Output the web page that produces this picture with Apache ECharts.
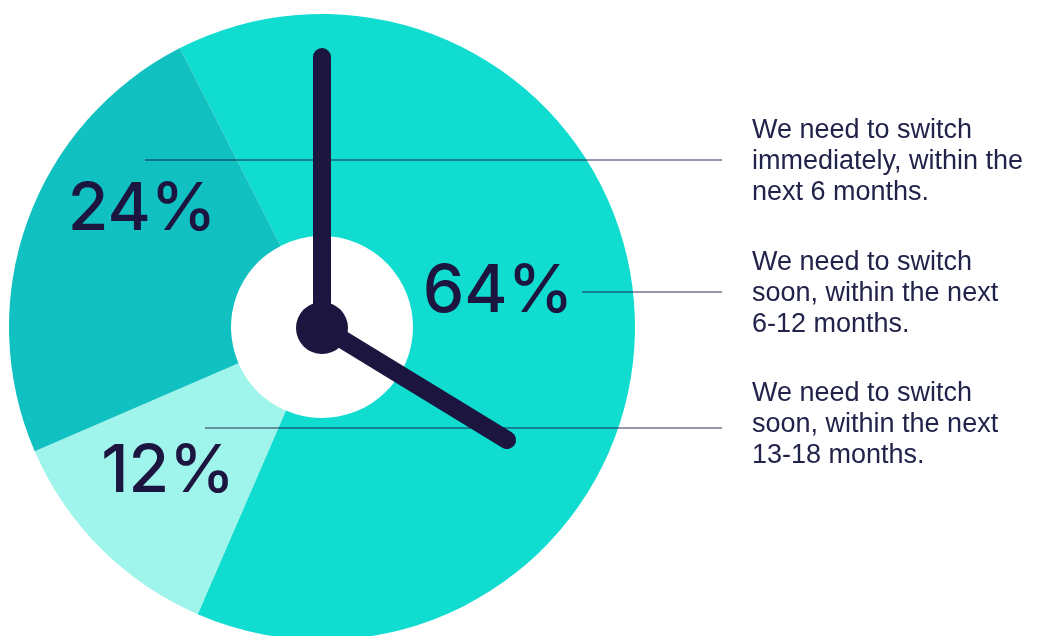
<!DOCTYPE html>
<html>
<head>
<meta charset="utf-8">
<style>
  html, body { margin: 0; padding: 0; background: #ffffff; }
  #chart { width: 1038px; height: 636px; }
</style>
<script src="https://cdn.jsdelivr.net/npm/echarts@6/dist/echarts.min.js"></script>
</head>
<body>
<div id="chart"></div>
<script>
// Share of respondents by how soon they need to switch
const categories = [
  'We need to switch\nimmediately, within the\nnext 6 months.',
  'We need to switch\nsoon, within the next\n6-12 months.',
  'We need to switch\nsoon, within the next\n13-18 months.'
];
// Slices drawn clockwise: 6 months, 13-18 months, 6-12 months
const sliceOrder = [0, 2, 1];
const values = [64, 24, 12];          // per category, in percent
const sliceColors = ['#10dcd0', '#11c0c0', '#9ff5eb'];

const INK = '#1b1540';
const CX = 322, CY = 327;

const chart = echarts.init(document.getElementById('chart'), null, { renderer: 'canvas' });

const pieData = sliceOrder.map(i => ({
  name: categories[i],
  value: values[i],
  itemStyle: { color: sliceColors[i] }
}));

// percentage label anchors (centre of each text)
const pctAnchors = [[498, 292], [142, 210], [168, 472]];
// right-hand description blocks (top of first line)
const descTops = [115, 247, 378];
// leader lines: [x start, y]
const leaders = [[145, 160], [582, 292], [205, 428]];
const LEADER_END = 722;

const graphics = [];

leaders.forEach(([x, y]) => {
  graphics.push({
    type: 'line', z: 10,
    shape: { x1: x, y1: y, x2: LEADER_END, y2: y },
    style: { stroke: 'rgba(27,21,64,0.6)', lineWidth: 1.5 }
  });
});

values.forEach((v, i) => {
  graphics.push({
    type: 'text', z: 20,
    x: pctAnchors[i][0], y: pctAnchors[i][1],
    style: {
      text: v + '%',
      fill: INK,
      font: '500 66px Inter',
      textAlign: 'center',
      textVerticalAlign: 'middle'
    }
  });
});

categories.forEach((c, i) => {
  graphics.push({
    type: 'text', z: 20,
    x: 752, y: descTops[i],
    style: {
      text: c,
      fill: '#22234a',
      fontFamily: 'Liberation Sans',
      fontSize: 27,
      lineHeight: 31,
      textAlign: 'left',
      textVerticalAlign: 'top'
    }
  });
});

// clock hands and hub
graphics.push(
  {
    type: 'line', z: 30,
    shape: { x1: CX, y1: CY, x2: CX, y2: 57 },
    style: { stroke: INK, lineWidth: 18, lineCap: 'round' }
  },
  {
    type: 'line', z: 30,
    shape: { x1: CX, y1: CY, x2: 507, y2: 440 },
    style: { stroke: INK, lineWidth: 18, lineCap: 'round' }
  },
  {
    type: 'circle', z: 31,
    shape: { cx: CX, cy: CY + 1, r: 26 },
    style: { fill: INK }
  }
);

chart.setOption({
  animation: false,
  backgroundColor: '#ffffff',
  series: [{
    type: 'pie',
    center: [CX, CY],
    radius: [91, 313],
    startAngle: 117,
    clockwise: true,
    silent: true,
    label: { show: false },
    labelLine: { show: false },
    itemStyle: { borderWidth: 0 },
    emphasis: { disabled: true },
    data: pieData
  }],
  graphic: graphics
});
</script>
</body>
</html>
